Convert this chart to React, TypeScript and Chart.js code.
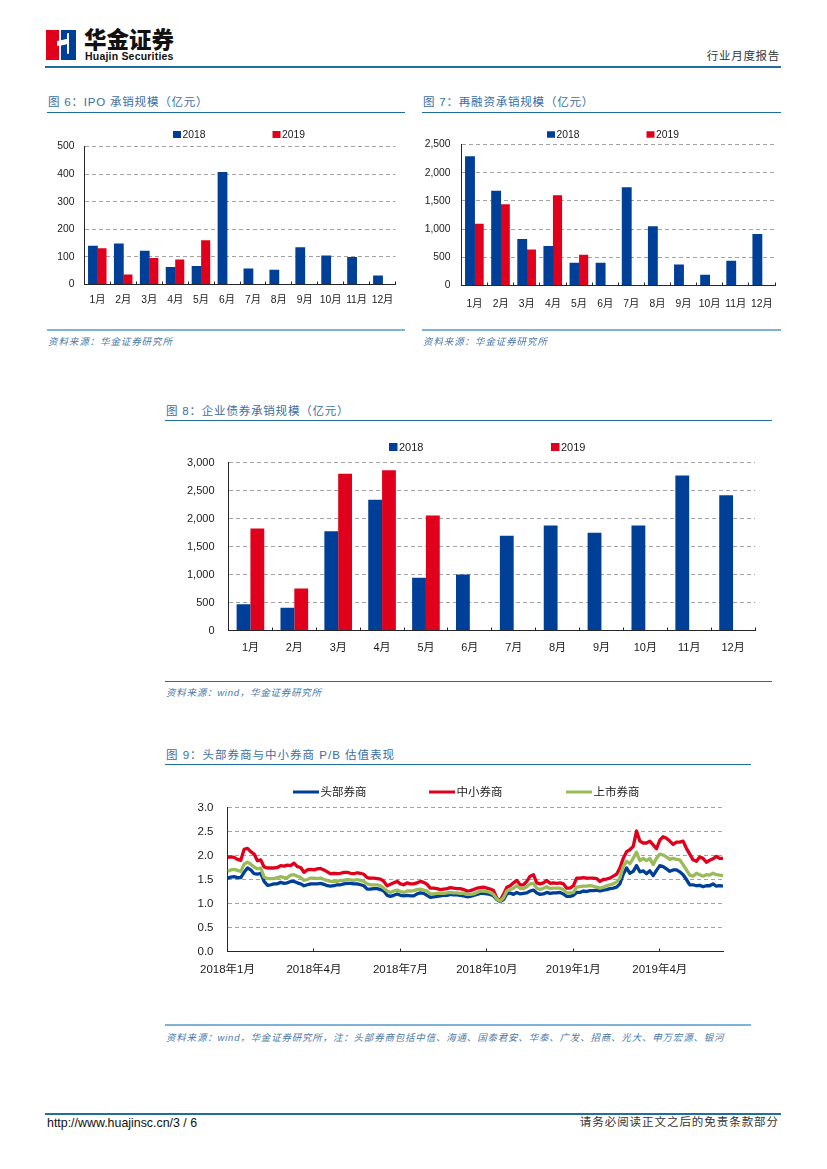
import React, { useEffect, useRef } from "react";
import { Chart, registerables } from "chart.js";

Chart.register(...registerables);

const months = ["1月", "2月", "3月", "4月", "5月", "6月", "7月", "8月", "9月", "10月", "11月", "12月"];
const ipo2018 = [140, 149, 122, 63, 67, 408, 58, 53, 135, 105, 100, 33];
const ipo2019 = [131, 36, 96, 91, 160];
const refi2018 = [2293, 1682, 823, 699, 403, 403, 1742, 1049, 373, 190, 438, 912];
const refi2019 = [1096, 1440, 640, 1600, 545];
const bond2018 = [470, 405, 1774, 2333, 940, 1000, 1690, 1875, 1744, 1875, 2768, 2417];
const bond2019 = [1821, 750, 2798, 2863, 2054];

const pbTickLabels = ["2018年1月", "2018年4月", "2018年7月", "2018年10月", "2019年1月", "2019年4月"];
const pbHead = [
  1.53, 1.55, 1.56, 1.54, 1.54, 1.65, 1.74, 1.70, 1.62, 1.61, 1.63, 1.46, 1.38, 1.39, 1.41, 1.41, 1.44, 1.42, 1.43, 1.46,
  1.46, 1.43, 1.41, 1.37, 1.39, 1.41, 1.41, 1.41, 1.42, 1.40, 1.37, 1.36, 1.37, 1.39, 1.39, 1.41, 1.42, 1.42, 1.41,
  1.41, 1.39, 1.37, 1.30, 1.30, 1.31, 1.31, 1.29, 1.26, 1.17, 1.15, 1.17, 1.20, 1.17, 1.16, 1.17, 1.16, 1.16, 1.20, 1.22,
  1.21, 1.17, 1.13, 1.14, 1.15, 1.16, 1.17, 1.17, 1.19, 1.18, 1.18, 1.17, 1.16, 1.14, 1.15, 1.17, 1.19,
  1.21, 1.21, 1.20, 1.19, 1.16, 1.08, 1.04, 1.08, 1.20, 1.22, 1.19, 1.23, 1.20, 1.21, 1.22, 1.26, 1.28, 1.22, 1.19, 1.20,
  1.23, 1.21, 1.22, 1.22, 1.23, 1.20, 1.15, 1.15, 1.17, 1.23, 1.23, 1.26, 1.25, 1.27, 1.27, 1.28, 1.26, 1.28,
  1.29, 1.31, 1.32, 1.34, 1.41, 1.61, 1.74, 1.63, 1.67, 1.79, 1.66, 1.68, 1.62, 1.68, 1.58, 1.69, 1.79, 1.77, 1.72, 1.67,
  1.70, 1.70, 1.66, 1.60, 1.50, 1.39, 1.39, 1.37, 1.38, 1.35, 1.37, 1.37, 1.41, 1.36, 1.37, 1.36,
];
const pbSmall = [
  1.96, 1.97, 1.96, 1.92, 1.90, 2.13, 2.15, 2.08, 2.03, 1.89, 1.91, 1.76, 1.74, 1.74, 1.74, 1.75, 1.79, 1.78, 1.80, 1.79,
  1.84, 1.77, 1.75, 1.65, 1.70, 1.71, 1.70, 1.72, 1.73, 1.70, 1.66, 1.62, 1.63, 1.62, 1.63, 1.65, 1.65, 1.63, 1.62,
  1.64, 1.63, 1.61, 1.54, 1.53, 1.53, 1.52, 1.51, 1.46, 1.37, 1.40, 1.43, 1.46, 1.41, 1.39, 1.43, 1.41, 1.41, 1.43, 1.46,
  1.44, 1.40, 1.32, 1.32, 1.31, 1.29, 1.30, 1.31, 1.33, 1.32, 1.31, 1.31, 1.29, 1.26, 1.27, 1.29, 1.32,
  1.33, 1.34, 1.32, 1.30, 1.27, 1.11, 1.06, 1.19, 1.34, 1.37, 1.43, 1.48, 1.39, 1.39, 1.46, 1.57, 1.60, 1.43, 1.41, 1.43,
  1.48, 1.42, 1.43, 1.42, 1.43, 1.41, 1.32, 1.32, 1.37, 1.53, 1.53, 1.54, 1.53, 1.53, 1.53, 1.52, 1.46, 1.50,
  1.51, 1.53, 1.57, 1.61, 1.74, 1.94, 2.08, 2.12, 2.19, 2.51, 2.30, 2.26, 2.26, 2.30, 2.22, 2.14, 2.32, 2.39, 2.36, 2.30,
  2.23, 2.28, 2.28, 2.30, 2.15, 2.03, 1.91, 1.88, 1.97, 1.94, 1.86, 1.90, 1.93, 1.98, 1.94, 1.94,
];
const pbListed = [
  1.67, 1.70, 1.71, 1.69, 1.67, 1.82, 1.86, 1.82, 1.76, 1.72, 1.74, 1.55, 1.52, 1.52, 1.52, 1.54, 1.56, 1.54, 1.54, 1.59,
  1.60, 1.57, 1.54, 1.48, 1.50, 1.53, 1.53, 1.52, 1.53, 1.50, 1.48, 1.46, 1.46, 1.46, 1.48, 1.48, 1.50, 1.49, 1.48,
  1.50, 1.48, 1.46, 1.41, 1.39, 1.39, 1.39, 1.37, 1.32, 1.26, 1.23, 1.26, 1.28, 1.25, 1.23, 1.26, 1.26, 1.27, 1.29, 1.30,
  1.28, 1.26, 1.20, 1.20, 1.21, 1.21, 1.21, 1.22, 1.23, 1.22, 1.22, 1.21, 1.21, 1.19, 1.19, 1.20, 1.23,
  1.26, 1.26, 1.25, 1.23, 1.19, 1.09, 1.05, 1.12, 1.26, 1.29, 1.32, 1.37, 1.31, 1.31, 1.35, 1.41, 1.42, 1.32, 1.29, 1.32,
  1.35, 1.31, 1.32, 1.32, 1.32, 1.29, 1.22, 1.22, 1.23, 1.34, 1.35, 1.36, 1.36, 1.37, 1.36, 1.34, 1.32, 1.34,
  1.37, 1.39, 1.41, 1.45, 1.53, 1.77, 1.88, 1.83, 1.94, 2.07, 1.89, 1.94, 1.89, 1.94, 1.81, 1.94, 2.03, 2.01, 1.97, 1.92,
  1.94, 1.92, 1.91, 1.81, 1.70, 1.59, 1.57, 1.63, 1.60, 1.57, 1.60, 1.59, 1.63, 1.60, 1.59, 1.58,
];

const BLUE = "#003f98";
const RED = "#e0001b";
const GREEN = "#9bbb59";
const GRID = "#a3a3a3";
const AXIS = "#262626";
const FONT = "'Liberation Sans', 'Noto Sans CJK SC', sans-serif";

type Box = { left: number; top: number; width: number; height: number; plotLeft: number; plotRight: number; plotTop: number; plotBottom: number };

// Draws the legend entries from the chart's own datasets at the requested page positions.
const spacedLegend = {
  id: "spacedLegend",
  afterDraw(chart: any, _args: any, opts: any) {
    const { ctx } = chart;
    ctx.save();
    ctx.font = `${opts.size}px ${FONT}`;
    ctx.textBaseline = "middle";
    ctx.textAlign = "left";
    chart.data.datasets.forEach((ds: any, i: number) => {
      const x = opts.xs[i] - opts.left;
      const y = opts.y - opts.top;
      ctx.fillStyle = ds.legendColor;
      if (opts.line) {
        ctx.fillRect(x, y - 1.5, opts.w, 3);
      } else {
        ctx.fillRect(x, y - opts.h / 2, opts.w, opts.h);
      }
      ctx.fillStyle = "#1a1a1a";
      ctx.fillText(ds.label, x + opts.w + 1.5, y + 0.5);
    });
    ctx.restore();
  },
};

function baseOptions(box: Box, size: number, yPad: number, xPad: number, legend: any) {
  return {
    responsive: false,
    animation: false as const,
    devicePixelRatio: 1,
    layout: {
      padding: { left: 0, bottom: 0, top: box.plotTop - box.top, right: box.left + box.width - box.plotRight },
    },
    plugins: {
      legend: { display: false },
      tooltip: { enabled: false },
      spacedLegend: { ...legend, left: box.left, top: box.top, size },
    },
    scales: {
      x: {
        afterFit: (s: any) => { s.height = box.top + box.height - box.plotBottom; },
        border: { color: AXIS, width: 1 },
        grid: { display: true, drawOnChartArea: false, tickLength: -3, color: AXIS, tickColor: AXIS },
        ticks: { color: "#1a1a1a", font: { family: FONT, size }, padding: xPad, maxRotation: 0, autoSkip: false },
      },
      y: {
        afterFit: (s: any) => { s.width = box.plotLeft - box.left; },
        min: 0,
        border: { color: AXIS, width: 1, dash: [4, 3] },
        grid: { color: GRID, lineWidth: 1, drawTicks: false },
        ticks: { color: "#1a1a1a", font: { family: FONT, size }, padding: yPad },
      },
    } as any,
  };
}

function barConfig(box: Box, a: number[], b: number[], max: number, step: number, size: number, yPad: number, xPad: number, catPct: number, blueBar: number, legend: any) {
  const options: any = baseOptions(box, size, yPad, xPad, legend);
  options.scales.y.max = max;
  options.scales.y.ticks.stepSize = step;
  options.scales.y.ticks.callback = (v: number) => v.toLocaleString("en-US");
  return {
    type: "bar" as const,
    data: {
      labels: months,
      datasets: [
        { label: "2018", data: a, backgroundColor: BLUE, legendColor: BLUE, categoryPercentage: catPct, barPercentage: blueBar },
        { label: "2019", data: b, backgroundColor: RED, legendColor: RED, categoryPercentage: catPct, barPercentage: 1 },
      ],
    },
    options,
    plugins: [spacedLegend],
  };
}

function lineConfig(box: Box, legend: any) {
  const options: any = baseOptions(box, 11.5, 14, 14, legend);
  options.scales.y.max = 3;
  options.scales.y.ticks.stepSize = 0.5;
  options.scales.y.ticks.callback = (v: number) => v.toFixed(1);
  options.scales.x = {
    ...options.scales.x,
    type: "linear",
    min: 0,
    max: pbHead.length - 1,
    ticks: {
      ...options.scales.x.ticks,
      stepSize: 26,
      includeBounds: false,
      callback: (v: number) => pbTickLabels[Math.round(v / 26)] ?? "",
    },
  };
  const pts = (arr: number[]) => arr.map((y, x) => ({ x, y }));
  const line = { pointRadius: 0, borderWidth: 3.3, tension: 0, borderJoinStyle: "round", fill: false };
  return {
    type: "line" as const,
    data: {
      datasets: [
        { ...line, label: "头部券商", data: pts(pbHead), borderColor: BLUE, legendColor: BLUE, order: 2 },
        { ...line, label: "中小券商", data: pts(pbSmall), borderColor: RED, legendColor: RED, order: 1 },
        { ...line, label: "上市券商", data: pts(pbListed), borderColor: GREEN, legendColor: GREEN, order: 0 },
      ],
    },
    options,
    plugins: [spacedLegend],
  };
}

function ChartCanvas({ box, make }: { box: Box; make: () => any }) {
  const ref = useRef<HTMLCanvasElement | null>(null);
  useEffect(() => {
    const chart = new Chart(ref.current as HTMLCanvasElement, make());
    return () => chart.destroy();
  }, []);
  return (
    <canvas
      ref={ref}
      width={box.width}
      height={box.height}
      style={{ position: "absolute", left: box.left, top: box.top, width: box.width, height: box.height }}
    />
  );
}

const CJK = "'Liberation Sans', 'Noto Sans CJK SC', sans-serif";

function Txt(p: { x?: number; right?: number; y: number; size: number; color: string; text: string; spacing?: number; italic?: boolean; weight?: number }) {
  return (
    <div
      style={{
        position: "absolute",
        left: p.x,
        right: p.right,
        top: p.y,
        transform: "translateY(-50%)",
        fontFamily: CJK,
        fontSize: p.size,
        color: p.color,
        letterSpacing: p.spacing ?? 0,
        fontStyle: p.italic ? "italic" : "normal",
        fontWeight: p.weight ?? 400,
        whiteSpace: "nowrap",
        lineHeight: 1.2,
      }}
    >
      {p.text}
    </div>
  );
}

function Rule(p: { x1: number; x2: number; y: number; color: string; h: number }) {
  return <div style={{ position: "absolute", left: p.x1, width: p.x2 - p.x1, top: p.y - p.h / 2, height: p.h, background: p.color }} />;
}

const TITLE = "#3a6ea5";
const SRC = "#4a78a8";
const RULE = "#1f6f9e";
const RULE_LIGHT = "#7fb2d6";

const box1: Box = { left: 47, top: 122, width: 378, height: 195, plotLeft: 84.5, plotRight: 395.5, plotTop: 146.5, plotBottom: 284.5 };
const box2: Box = { left: 422, top: 122, width: 380, height: 195, plotLeft: 461.5, plotRight: 775, plotTop: 144.5, plotBottom: 285.5 };
const box3: Box = { left: 165, top: 432, width: 620, height: 240, plotLeft: 228.5, plotRight: 755, plotTop: 462.5, plotBottom: 630.5 };
const box4: Box = { left: 165, top: 775, width: 586, height: 215, plotLeft: 227.5, plotRight: 723, plotTop: 807.5, plotBottom: 951.5 };

export default function App() {
  return (
    <div style={{ position: "absolute", left: 0, top: 0, width: 827, height: 1169, background: "#fff", overflow: "hidden" }}>
      <svg style={{ position: "absolute", left: 46, top: 30 }} width={30} height={30} viewBox="0 0 30 30">
        <rect x={0} y={0} width={15} height={30} fill="#e0001b" />
        <rect x={15} y={0} width={15} height={30} fill="#003f98" />
        <path d="M13 0H15V11L21 9V3.5L23 3V23.5L21 24V14L15 15.5V30H13V13L19 11.5L13 13Z" fill="#fff" />
        <path d="M11 11L21 9V14L11 16Z" fill="#fff" />
      </svg>
      <Txt x={84} y={40} size={22.5} color="#111" text="华金证券" weight={900} />
      <Txt x={85} y={56} size={10.5} color="#111" text="Huajin Securities" weight={700} spacing={0.2} />
      <Txt right={47} y={57} size={11.5} color="#333" text="行业月度报告" spacing={0.7} />
      <Rule x1={45} x2={781} y={67} color={RULE} h={1.5} />

      <Txt x={48} y={103} size={11.5} color={TITLE} text="图 6：IPO 承销规模（亿元）" spacing={0.8} />
      <Rule x1={47} x2={405} y={112} color={RULE} h={1} />
      <ChartCanvas box={box1} make={() => barConfig(box1, ipo2018, ipo2019, 500, 100, 10.3, 10, 12, 0.7, 1.08, { xs: [173, 272.5], y: 134.5, w: 8, h: 7 })} />
      <Rule x1={47} x2={405} y={330} color={RULE_LIGHT} h={1.5} />
      <Txt x={48} y={342} size={9.5} color={SRC} text="资料来源：华金证券研究所" italic spacing={0.9} />

      <Txt x={423} y={103} size={11.5} color={TITLE} text="图 7：再融资承销规模（亿元）" spacing={0.8} />
      <Rule x1={422} x2={781} y={112} color={RULE} h={1} />
      <ChartCanvas box={box2} make={() => barConfig(box2, refi2018, refi2019, 2500, 500, 10.3, 11, 15, 0.7, 1.08, { xs: [547, 646.5], y: 134.5, w: 8, h: 6.5 })} />
      <Rule x1={422} x2={781} y={330} color={RULE_LIGHT} h={1.5} />
      <Txt x={423} y={342} size={9.5} color={SRC} text="资料来源：华金证券研究所" italic spacing={0.9} />

      <Txt x={166} y={412} size={11.5} color={TITLE} text="图 8：企业债券承销规模（亿元）" spacing={0.8} />
      <Rule x1={165} x2={772} y={420.5} color={RULE} h={1} />
      <ChartCanvas box={box3} make={() => barConfig(box3, bond2018, bond2019, 3000, 500, 11, 14, 14, 0.63, 1, { xs: [389, 551], y: 447, w: 8.5, h: 8 })} />
      <Rule x1={165} x2={772} y={681.5} color={RULE} h={1} />
      <Txt x={166} y={693} size={9.5} color={SRC} text="资料来源：wind，华金证券研究所" italic spacing={0.75} />

      <Txt x={166} y={756} size={11.5} color={TITLE} text="图 9：头部券商与中小券商 P/B 估值表现" spacing={1} />
      <Rule x1={165} x2={751} y={764.5} color={RULE} h={1} />
      <ChartCanvas box={box4} make={() => lineConfig(box4, { xs: [293, 429, 566], y: 792, w: 26, line: true })} />
      <Rule x1={165} x2={751} y={1025} color={RULE_LIGHT} h={1.5} />
      <Txt x={166} y={1038} size={9.5} color={SRC} text="资料来源：wind，华金证券研究所，注：头部券商包括中信、海通、国泰君安、华泰、广发、招商、光大、申万宏源、银河" italic spacing={0.8} />

      <Rule x1={45} x2={781} y={1114} color={RULE} h={1.5} />
      <Txt x={47} y={1123} size={12.4} color="#111" text="http://www.huajinsc.cn/3 / 6" />
      <Txt right={48} y={1123} size={11.5} color="#333" text="请务必阅读正文之后的免责条款部分" spacing={0.95} />
    </div>
  );
}
